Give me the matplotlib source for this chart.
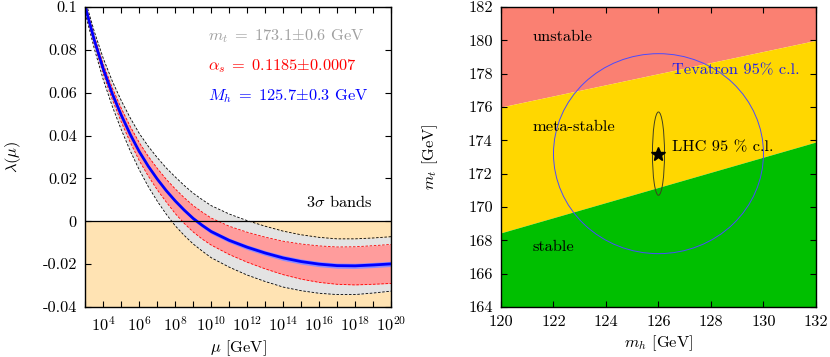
import numpy as np
import matplotlib
matplotlib.use("Agg")
import matplotlib.pyplot as plt
from matplotlib.patches import Ellipse
from matplotlib.ticker import FixedLocator, NullFormatter

# left panel: running quartic coupling lambda(mu)
log_mu = [3, 3.5, 4, 4.5, 5, 5.5, 6, 6.5, 7, 7.5, 8, 8.5, 9, 9.5, 10,
          11, 12, 13, 14, 15, 16, 17, 18, 19, 20]
lam_c = [.1000, .0845, .0710, .0595, .0495, .0405, .0325, .0257, .0197, .0143,
         .0095, .0052, .0013, -.0019, -.0048, -.0089, -.0121, -.0148, -.0171,
         -.0188, -.0200, -.0207, -.0208, -.0204, -.0199]
lam_mt_hi = [.1030, .0885, .0760, .0654, .0563, .0482, .0410, .0350, .0297, .0249,
             .0207, .0167, .0131, .0101, .0073, .0034, .0003, -.0023, -.0046,
             -.0063, -.0075, -.0082, -.0082, -.0078, -.0072]
lam_mt_lo = [.0970, .0805, .0660, .0536, .0427, .0328, .0240, .0162, .0094, .0033,
             -.0021, -.0066, -.0106, -.0139, -.0170, -.0214, -.0251, -.0281, -.0307,
             -.0324, -.0336, -.0342, -.0342, -.0335, -.0326]
lam_as_hi = [.1012, .0862, .0732, .0622, .0527, .0442, .0367, .0303, .0247, .0196,
             .0151, .0110, .0073, .0043, .0015, -.0023, -.0051, -.0074, -.0093,
             -.0106, -.0115, -.0120, -.0119, -.0114, -.0108]
lam_as_lo = [.0988, .0828, .0688, .0568, .0463, .0368, .0283, .0211, .0147, .0090,
             .0036, -.0010, -.0050, -.0083, -.0111, -.0155, -.0191, -.0222, -.0249,
             -.0270, -.0285, -.0294, -.0297, -.0294, -.0290]
lam_mh_hi = [.1003, .0848, .0714, .0599, .0500, .0410, .0331, .0263, .0204, .0150,
             .0103, .0060, .0022, -.0010, -.0038, -.0079, -.0110, -.0137, -.0159,
             -.0176, -.0188, -.0195, -.0196, -.0192, -.0187]
lam_mh_lo = [.0997, .0842, .0706, .0591, .0490, .0400, .0319, .0251, .0190, .0136,
             .0087, .0044, .0004, -.0028, -.0058, -.0099, -.0132, -.0159, -.0183,
             -.0200, -.0212, -.0219, -.0220, -.0216, -.0211]

x_ticks_major = [4, 6, 8, 10, 12, 14, 16, 18, 20]
x_ticks_minor = [3, 5, 7, 9, 11, 13, 15, 17, 19]
y_ticks_left = [-0.04, -0.02, 0, 0.02, 0.04, 0.06, 0.08, 0.1]
y_labels_left = ["-0.04", "-0.02", "0", "0.02", "0.04", "0.06", "0.08", "0.1"]

# right panel: stability regions in the (mh, mt) plane
mh_edge = [120, 132]
unstable_edge = [176.0, 180.0]
stable_edge = [168.45, 173.9]
best_fit = (126.0, 173.2)
tevatron_axes = (8.0, 12.0)
lhc_axes = (0.46, 5.0)

plt.rcParams["font.family"] = "serif"
plt.rcParams["font.serif"] = ["cmr10"]
plt.rcParams["mathtext.fontset"] = "cm"
plt.rcParams["axes.unicode_minus"] = False
plt.rcParams["font.size"] = 11.8

fig = plt.figure(figsize=(8.3, 3.57), dpi=100)
ax1 = fig.add_axes([0.1028, 0.1401, 0.3683, 0.8403])
ax2 = fig.add_axes([0.6036, 0.1401, 0.3795, 0.8403])

mu = 10.0 ** np.array(log_mu, dtype=float)

ax1.axhspan(-0.04, 0, color="#FFE3B3", zorder=0, lw=0)
ax1.fill_between(mu, lam_mt_lo, lam_mt_hi, color="#E3E3E3", lw=0, zorder=1)
ax1.fill_between(mu, lam_as_lo, lam_as_hi, color="#FF9C9C", lw=0, zorder=2)
ax1.fill_between(mu, lam_mh_lo, lam_mh_hi, color="#8C8CFF", lw=0, zorder=3)
ax1.plot(mu, lam_mt_hi, color="black", ls=(0, (3, 2)), lw=0.6, zorder=4)
ax1.plot(mu, lam_mt_lo, color="black", ls=(0, (3, 2)), lw=0.6, zorder=4)
ax1.plot(mu, lam_as_hi, color="red", ls=(0, (3, 2)), lw=0.6, zorder=4)
ax1.plot(mu, lam_as_lo, color="red", ls=(0, (3, 2)), lw=0.6, zorder=4)
ax1.plot(mu, lam_c, color="#0000FF", lw=2.0, zorder=5)
ax1.axhline(0, color="black", lw=0.9, zorder=6)

ax1.set_xscale("log")
ax1.set_xlim(1e3, 1e20)
ax1.set_ylim(-0.04, 0.1)
ax1.xaxis.set_major_locator(FixedLocator([10.0 ** k for k in x_ticks_major]))
ax1.xaxis.set_minor_locator(FixedLocator([10.0 ** k for k in x_ticks_minor]))
ax1.xaxis.set_minor_formatter(NullFormatter())
ax1.set_xticklabels([r"$10^{%d}$" % k for k in x_ticks_major])
ax1.set_yticks(y_ticks_left)
ax1.set_yticklabels(y_labels_left)
ax1.set_xlabel(r"$\mu$ [GeV]", labelpad=3)
ax1.set_ylabel(r"$\lambda(\mu)$", labelpad=14)

ax1.text(6.6e9, 0.0863, r"$m_t\;=\;173.1{\pm}0.6$ GeV", color="#A0A0A0", va="center")
ax1.text(6.6e9, 0.0722, r"$\alpha_s\;=\;0.1185{\pm}0.0007$", color="#FF0000", va="center")
ax1.text(6.6e9, 0.0582, r"$M_h\;=\;125.7{\pm}0.3$ GeV", color="#0000FF", va="center")
ax1.text(1.8e15, 0.0092, r"3$\sigma$ bands", color="black", va="center")

ax2.fill_between(mh_edge, unstable_edge, [182, 182], color="#FA8072", lw=0)
ax2.fill_between(mh_edge, stable_edge, unstable_edge, color="#FFD700", lw=0)
ax2.fill_between(mh_edge, [164, 164], stable_edge, color="#00BF00", lw=0)
ax2.add_patch(Ellipse(best_fit, tevatron_axes[0], tevatron_axes[1], fill=False,
                      ec="#4A4AFF", lw=0.7))
ax2.add_patch(Ellipse(best_fit, lhc_axes[0], lhc_axes[1], fill=False,
                      ec="#404020", lw=0.7))
ax2.plot([best_fit[0]], [best_fit[1]], marker="*", color="black", ms=10, ls="none")

ax2.set_xlim(120, 132)
ax2.set_ylim(164, 182)
ax2.set_xticks(np.arange(120, 133, 2))
ax2.set_yticks(np.arange(164, 183, 2))
ax2.set_xlabel(r"$m_h$ [GeV]", labelpad=3)
ax2.set_ylabel(r"$m_t$ [GeV]", labelpad=20)

ax2.text(121.2, 180.2, "unstable", va="center")
ax2.text(121.2, 174.8, "meta-stable", va="center")
ax2.text(121.2, 167.6, "stable", va="center")
ax2.text(126.5, 178.2, "Tevatron 95% c.l.", color="#2020E8", va="center")
ax2.text(126.5, 173.6, "LHC 95 % c.l.", va="center")

for ax in (ax1, ax2):
    ax.tick_params(which="both", direction="in", top=True, right=True,
                   length=4.5, width=0.8, pad=6)
    for sp in ax.spines.values():
        sp.set_linewidth(1.0)
        sp.set_zorder(10)

fig.savefig("out.png", dpi=100)
